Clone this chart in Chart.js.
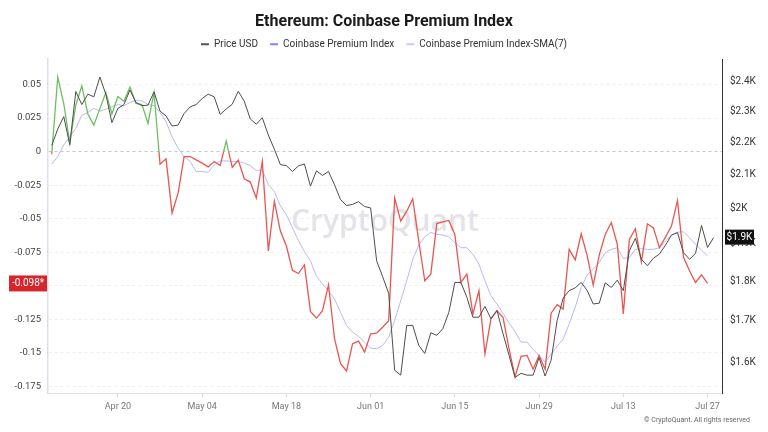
<!DOCTYPE html>
<html><head><meta charset="utf-8">
<script src="https://cdn.jsdelivr.net/npm/chart.js@4.4.0/dist/chart.umd.min.js"></script>
<style>html,body{margin:0;padding:0;background:#fff;} #c{display:block;}</style>
</head><body>
<canvas id="c" width="768" height="432"></canvas>
<script>
// ---- data (one point per day, index 0 = Apr 9) ----
const priceUSD = [2190,2242,2283,2192,2367,2323,2358,2349,2417,2357,
 2263,2310,2323,2372,2330,2319,2321,2366,2301,2285,
 2252,2255,2293,2315,2323,2343,2358,2349,2290,2308,
 2324,2368,2334,2275,2258,2279,2223,2178,2130,2127,
 2109,2126,2132,2065,2111,2097,2109,2069,2025,2008,
 2011,2019,2005,2001,1854,1812,1769,1583,1572,1689,
 1689,1641,1622,1671,1665,1681,1721,1797,1797,1759,
 1709,1709,1736,1705,1726,1669,1618,1567,1576,1572,
 1572,1612,1570,1606,1701,1757,1776,1783,1797,1776,
 1742,1744,1796,1784,1803,1776,1881,1915,1858,1841,
 1861,1872,1896,1924,1931,1876,1858,1874,1951,1890,
 1917];
const premiumIndex = [-0.002,0.0555,0.0358,0.0062,0.0345,0.049,0.028,0.0197,0.032,0.044,
 0.028,0.041,0.0375,0.048,0.0358,0.035,0.021,0.044,-0.0094,-0.0054,
 -0.0457,-0.031,-0.0037,-0.0037,-0.0062,-0.0086,-0.0114,-0.0074,-0.0104,0.0079,
 -0.0118,-0.0064,-0.0202,-0.0227,-0.0346,-0.0074,-0.074,-0.037,-0.0592,-0.0703,
 -0.0884,-0.0908,-0.0844,-0.119,-0.124,-0.1185,-0.0992,-0.1394,-0.158,-0.1634,
 -0.1431,-0.1412,-0.1493,-0.1357,-0.1352,-0.1308,-0.1259,-0.0346,-0.0518,-0.0444,
 -0.0353,-0.0666,-0.0962,-0.0913,-0.0536,-0.0523,-0.0513,-0.0617,-0.0975,-0.0913,
 -0.121,-0.1037,-0.1506,-0.1246,-0.1185,-0.1234,-0.1468,-0.1678,-0.1525,-0.1518,
 -0.1621,-0.1518,-0.1621,-0.1204,-0.114,-0.1172,-0.0728,-0.0807,-0.0612,-0.0777,
 -0.0995,-0.077,-0.0617,-0.0528,-0.0691,-0.1209,-0.0654,-0.0575,-0.0822,-0.0538,
 -0.0568,-0.0716,-0.0637,-0.0555,-0.0365,-0.0785,-0.0888,-0.0975,-0.0918,-0.0982];
const premiumSMA7 = [-0.0094,-0.0037,0.0049,0.0111,0.0173,0.0271,0.0291,0.0321,0.0301,0.0316,
 0.0333,0.035,0.0341,0.0365,0.0383,0.0378,0.035,0.0341,0.0291,0.0222,
 0.0111,0.0025,-0.0037,-0.0074,-0.0148,-0.0148,-0.0155,-0.0099,-0.0069,-0.0069,
 -0.0074,-0.0074,-0.0086,-0.0104,-0.0141,-0.0136,-0.0247,-0.0296,-0.0405,-0.0469,
 -0.0568,-0.0661,-0.0745,-0.0814,-0.0928,-0.0987,-0.1037,-0.1098,-0.1197,-0.1296,
 -0.1345,-0.1377,-0.1419,-0.1464,-0.1468,-0.1444,-0.1382,-0.1259,-0.1111,-0.0963,
 -0.0802,-0.0696,-0.0634,-0.0602,-0.0617,-0.0622,-0.0634,-0.0679,-0.0716,-0.0716,
 -0.0765,-0.0839,-0.0963,-0.1074,-0.1135,-0.1204,-0.1276,-0.134,-0.1419,-0.1419,
 -0.1473,-0.1518,-0.1567,-0.151,-0.1449,-0.1397,-0.1283,-0.116,-0.1012,-0.0918,
 -0.0876,-0.0827,-0.0753,-0.0728,-0.0716,-0.0795,-0.079,-0.0728,-0.0723,-0.0728,
 -0.0728,-0.0716,-0.0666,-0.0622,-0.06,-0.0597,-0.0642,-0.0691,-0.0735,-0.0777];
const xTickDays = [11,25,39,53,67,81,95,109];
const xTickLabels = ['Apr 20','May 04','May 18','Jun 01','Jun 15','Jun 29','Jul 13','Jul 27'];
const leftTicks = [0.05,0.025,0,-0.025,-0.05,-0.075,-0.1,-0.125,-0.15,-0.175];
const rightTicks = [1600,1700,1800,1900,2000,2100,2200,2300,2400];
const seriesNames = ['Price USD','Coinbase Premium Index','Coinbase Premium Index-SMA(7)'];

// ---- styles ----
const GREEN = '#6cbf5c', RED = '#e8564f';
const legendColors = ['#555555','#8585f2','#c9c9f6'];
Chart.defaults.font.family = 'Roboto, "Noto Sans", sans-serif';

function premiumStroke(context){
  const chart = context.chart;
  const {ctx, chartArea, scales} = chart;
  if (!chartArea || !scales.y) return RED;
  const y0 = scales.y.getPixelForValue(0);
  let f = (y0 - chartArea.top) / (chartArea.bottom - chartArea.top);
  f = Math.min(1, Math.max(0, f));
  const g = ctx.createLinearGradient(0, chartArea.top, 0, chartArea.bottom);
  g.addColorStop(0, GREEN); g.addColorStop(f, GREEN);
  g.addColorStop(f, RED); g.addColorStop(1, RED);
  return g;
}

const toXY = arr => arr.map((v,i)=>({x:i, y:v}));

const overlay = {
  id: 'overlay',
  beforeDatasetsDraw(chart){
    const {ctx, chartArea} = chart;
    ctx.save();
    ctx.font = '600 30px "Open Sans", Roboto, sans-serif';
    ctx.fillStyle = '#e3e3ea';
    ctx.textAlign = 'center'; ctx.textBaseline = 'middle';
    ctx.fillText('CryptoQuant', (chartArea.left+chartArea.right)/2, (chartArea.top+chartArea.bottom)/2 - 4);
    ctx.restore();
  },
  afterDraw(chart){
    const {ctx, scales} = chart;
    ctx.save();
    // last premium value badge
    const lp = premiumIndex[premiumIndex.length-1];
    const yp = scales.y.getPixelForValue(lp);
    ctx.fillStyle = '#d7262b';
    ctx.fillRect(9, yp-8, 38, 16);
    ctx.fillStyle = '#fff';
    ctx.font = '10px Roboto, sans-serif';
    ctx.textAlign = 'center'; ctx.textBaseline = 'middle';
    ctx.fillText(lp.toFixed(3) + '*', 28, yp+0.5);
    // last price badge
    const lv = priceUSD[priceUSD.length-1];
    const yv = scales.y2.getPixelForValue(lv);
    ctx.fillStyle = '#111';
    ctx.fillRect(725, yv-8, 29, 15);
    ctx.fillStyle = '#fff';
    ctx.fillText('$' + (lv/1000).toFixed(1) + 'K', 739.5, yv);
    // copyright
    ctx.fillStyle = '#666';
    ctx.font = '7px Roboto, sans-serif';
    ctx.textAlign = 'right';
    ctx.fillText('\u00A9 CryptoQuant. All rights reserved', 750, 420);
    ctx.restore();
  }
};

new Chart(document.getElementById('c'), {
  type: 'line',
  data: {
    datasets: [
      { label: seriesNames[0], data: toXY(priceUSD), yAxisID: 'y2', borderColor: '#4d4d4d', borderWidth: 1, pointRadius: 0, tension: 0 },
      { label: seriesNames[1], data: toXY(premiumIndex), yAxisID: 'y', borderColor: premiumStroke, borderWidth: 1.3, pointRadius: 0, tension: 0 },
      { label: seriesNames[2], data: toXY(premiumSMA7), yAxisID: 'y', borderColor: '#b9b9f6', borderWidth: 1, pointRadius: 0, tension: 0 }
    ]
  },
  options: {
    responsive: false, animation: false, devicePixelRatio: 1,
    layout: { padding: 0 },
    plugins: {
      title: { display: true, text: 'Ethereum: Coinbase Premium Index', color: '#1a1a1a',
        font: { size: 16, weight: 'bold' }, padding: { top: 12, bottom: -4 } },
      legend: { display: true, position: 'top',
        labels: { boxWidth: 8, boxHeight: 2, padding: 12, color: '#333', font: { size: 10 },
          generateLabels(chart){
            const items = Chart.defaults.plugins.legend.labels.generateLabels(chart);
            items.forEach((it,i)=>{ it.fillStyle = legendColors[i]; it.strokeStyle = legendColors[i]; it.lineWidth = 0; });
            return items;
          } } },
      tooltip: { enabled: false }
    },
    scales: {
      x: { type: 'linear', min: -0.62, max: 111.4,
        afterBuildTicks(s){ s.ticks = xTickDays.map(v=>({value:v})); },
        afterFit(s){ s.height = 39; },
        ticks: { autoSkip: false, maxRotation: 0, padding: 4, color: '#777', font: { size: 9 },
          callback(v){ const k = xTickDays.indexOf(v); return k >= 0 ? xTickLabels[k] : ''; } },
        grid: { drawOnChartArea: false, drawTicks: true, tickLength: 4, tickColor: '#d8d8e0' },
        border: { display: true, color: '#e2e2ea', width: 1 } },
      y: { type: 'linear', position: 'left', min: -0.1798, max: 0.0688,
        afterBuildTicks(s){ s.ticks = leftTicks.map(v=>({value:v})); },
        afterFit(s){ s.width = 48; },
        ticks: { padding: 7, color: '#444', font: { size: 9.5 }, callback: v => String(v) },
        grid: { drawTicks: false, lineWidth: 1, color: c => (c.tick && c.tick.value === 0) ? '#c6c6cc' : '#efeff3' },
        border: { display: true, color: '#dedee8', width: 1.5, dash: [3,3] } },
      y2: { type: 'logarithmic', position: 'right', min: 1532, max: 2480,
        afterBuildTicks(s){ s.ticks = rightTicks.map(v=>({value:v})); },
        afterFit(s){ s.width = 46; },
        ticks: { padding: 8, color: '#333', font: { size: 10 }, callback: v => '$' + (v/1000) + 'K' },
        grid: { drawOnChartArea: false, drawTicks: false },
        border: { display: true, color: '#333', width: 1 } }
    }
  },
  plugins: [overlay]
});
</script>
</body></html>
